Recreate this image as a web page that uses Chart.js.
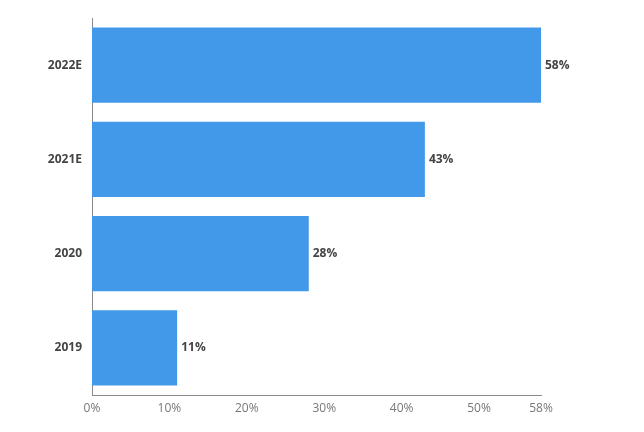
<!DOCTYPE html>
<html lang="en">
<head>
  <meta charset="UTF-8" />
  <title>Share by year</title>
  <script src="https://cdn.jsdelivr.net/npm/chart.js"></script>
  <style>
    body {
      margin: 0;
      background: #ffffff;
    }
    #wrap {
      width: 644px;
      height: 432px;
    }
  </style>
</head>
<body>
  <div id="wrap"><canvas id="shareChart" width="644" height="432"></canvas></div>

  <script>
    const years = ['2022E', '2021E', '2020', '2019'];
    const shares = [58, 43, 28, 11];
    const axisMax = 58;

    // draws the "58%" style labels just past the end of each bar
    const valueLabels = {
      id: 'valueLabels',
      afterDatasetsDraw(chart) {
        const ctx = chart.ctx;
        const meta = chart.getDatasetMeta(0);
        ctx.save();
        ctx.font = 'bold 12px "Open Sans", sans-serif';
        ctx.fillStyle = '#444444';
        ctx.textAlign = 'left';
        ctx.textBaseline = 'middle';
        meta.data.forEach((bar, i) => {
          ctx.fillText(shares[i] + '%', bar.x + 4, bar.y);
        });
        ctx.restore();
      }
    };

    const ctx = document.getElementById('shareChart').getContext('2d');
    new Chart(ctx, {
      type: 'bar',
      data: {
        labels: years,
        datasets: [{
          data: shares,
          backgroundColor: '#4299e9',
          borderWidth: 0,
          barPercentage: 1,
          categoryPercentage: 0.8
        }]
      },
      options: {
        indexAxis: 'y',
        responsive: false,
        animation: false,
        devicePixelRatio: 1,
        layout: {
          padding: { top: 18, right: 103, bottom: 0, left: 0 }
        },
        plugins: {
          legend: { display: false },
          tooltip: { enabled: false }
        },
        scales: {
          x: {
            min: 0,
            max: axisMax,
            grid: { display: false, drawTicks: false },
            border: { display: true, color: '#8a8a8a', width: 1 },
            ticks: {
              stepSize: 10,
              padding: 6,
              color: '#777777',
              font: { family: '"Open Sans", sans-serif', size: 12 },
              callback: v => v + '%'
            },
            afterFit(scale) { scale.height = 37; }
          },
          y: {
            grid: { display: false, drawTicks: false },
            border: { display: true, color: '#8a8a8a', width: 1 },
            ticks: {
              padding: 10,
              color: '#444444',
              font: { family: '"Open Sans", sans-serif', size: 12, weight: 'bold' }
            },
            afterFit(scale) { scale.width = 92; }
          }
        }
      },
      plugins: [valueLabels]
    });
  </script>
</body>
</html>
